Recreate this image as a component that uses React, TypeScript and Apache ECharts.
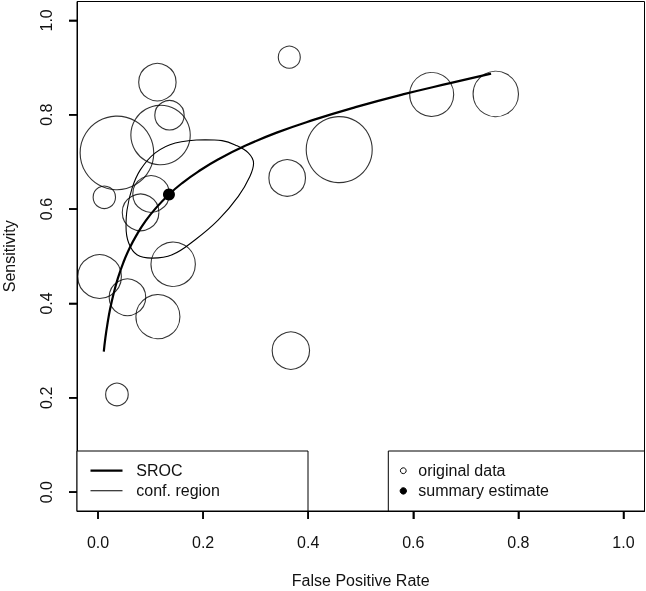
import React, { useEffect, useRef } from "react";
import * as echarts from "echarts";

// ---- data ----
const axisTicks = [0, 0.2, 0.4, 0.6, 0.8, 1.0];

const studyFpr = [0.113, 0.136, 0.119, 0.036, 0.012, 0.101, 0.081, 0.143, 0.003, 0.056, 0.114, 0.036, 0.364, 0.459, 0.36, 0.635, 0.757, 0.367];
const studySens = [0.869, 0.799, 0.757, 0.719, 0.625, 0.632, 0.593, 0.483, 0.457, 0.413, 0.372, 0.207, 0.922, 0.726, 0.666, 0.843, 0.844, 0.3];
const studyRadius = [18.7, 14.7, 29.7, 36.8, 11.2, 18.3, 18.3, 22.2, 21.8, 18.3, 22, 11.3, 11, 33, 18.3, 22, 22.7, 18.7];

const srocFpr = [0.011, 0.014, 0.018, 0.023, 0.03, 0.038, 0.048, 0.06, 0.075, 0.09, 0.11, 0.135, 0.16, 0.19, 0.23, 0.28, 0.34, 0.41, 0.49, 0.58, 0.67, 0.748];
const srocSens = [0.298, 0.327, 0.357, 0.388, 0.422, 0.454, 0.486, 0.517, 0.548, 0.574, 0.602, 0.631, 0.655, 0.679, 0.706, 0.734, 0.762, 0.789, 0.816, 0.843, 0.867, 0.887];

const ellipseFpr = [0.204, 0.147, 0.109, 0.0805, 0.0647, 0.0552, 0.0533, 0.0584, 0.0742, 0.103, 0.141, 0.185, 0.229, 0.267, 0.289, 0.296, 0.286, 0.261, 0.236, 0.204];
const ellipseSens = [0.747, 0.74, 0.719, 0.683, 0.644, 0.598, 0.563, 0.528, 0.503, 0.496, 0.503, 0.535, 0.577, 0.627, 0.669, 0.697, 0.719, 0.736, 0.745, 0.747];

const summaryFpr = 0.135;
const summarySens = 0.631;

const xTitle = "False Positive Rate";
const yTitle = "Sensitivity";
const legendLeft = ["SROC", "conf. region"];
const legendRight = ["original data", "summary estimate"];

const AXIS_MIN = -0.04;
const AXIS_MAX = 1.04;

const FONT = "Liberation Sans, Arial, Helvetica, sans-serif";
const INK = "#000";
const TXT = "#111";
const TICK_LEN = 8;

export default function App() {
  const ref = useRef<HTMLDivElement>(null);

  useEffect(() => {
    if (!ref.current) return;
    const chart = echarts.init(ref.current, undefined, { renderer: "svg" });

    const gLeft = 77, gTop = 1.5, gW = 567.5, gH = 509.5;
    const legTop = 451;
    const legBottom = gTop + gH;

    const axisCommon = {
      type: "value", min: AXIS_MIN, max: AXIS_MAX,
      splitLine: { show: false },
      axisLine: { show: true, onZero: false, lineStyle: { color: INK, width: 1 } },
      axisTick: { show: true, length: TICK_LEN, customValues: axisTicks, lineStyle: { color: INK, width: 1.5 } },
      nameLocation: "middle",
      nameTextStyle: { fontSize: 16, color: TXT, fontFamily: FONT },
    };

    const legendGraphics: any[] = [
      { type: "rect", shape: { x: gLeft, y: legTop, width: 231, height: legBottom - legTop }, style: { fill: "#fff", stroke: INK, lineWidth: 1 }, z: 10 },
      { type: "rect", shape: { x: 388.3, y: legTop, width: gLeft + gW - 388.3, height: legBottom - legTop }, style: { fill: "#fff", stroke: INK, lineWidth: 1 }, z: 10 },
      { type: "line", shape: { x1: 90.5, y1: 470.7, x2: 122.5, y2: 470.7 }, style: { stroke: INK, lineWidth: 2.2 }, z: 11 },
      { type: "line", shape: { x1: 90.5, y1: 490.7, x2: 122.5, y2: 490.7 }, style: { stroke: INK, lineWidth: 1.1 }, z: 11 },
      { type: "text", style: { x: 136.3, y: 470.7, text: legendLeft[0], font: `16px ${FONT}`, fill: TXT, textVerticalAlign: "middle", verticalAlign: "middle" }, z: 11 },
      { type: "text", style: { x: 136.3, y: 490.7, text: legendLeft[1], font: `16px ${FONT}`, fill: TXT, textVerticalAlign: "middle", verticalAlign: "middle" }, z: 11 },
      { type: "circle", shape: { cx: 403.3, cy: 470.7, r: 2.9 }, style: { fill: "#fff", stroke: INK, lineWidth: 1 }, z: 11 },
      { type: "circle", shape: { cx: 403.3, cy: 490.9, r: 3.2 }, style: { fill: INK, stroke: INK, lineWidth: 1 }, z: 11 },
      { type: "text", style: { x: 418.3, y: 470.7, text: legendRight[0], font: `16px ${FONT}`, fill: TXT, textVerticalAlign: "middle", verticalAlign: "middle" }, z: 11 },
      { type: "text", style: { x: 418.3, y: 490.7, text: legendRight[1], font: `16px ${FONT}`, fill: TXT, textVerticalAlign: "middle", verticalAlign: "middle" }, z: 11 },
    ];

    const option: any = {
      animation: false,
      grid: {
        left: gLeft, top: gTop, width: gW, height: gH,
        outerBoundsMode: "none",
        show: true, borderColor: INK, borderWidth: 1,
      },
      xAxis: {
        ...axisCommon,
        axisLabel: {
          customValues: axisTicks, margin: 23, fontSize: 16, color: TXT, fontFamily: FONT,
          formatter: (v: number) => v.toFixed(1),
        },
        name: xTitle, nameGap: 61,
      },
      yAxis: {
        ...axisCommon,
        axisLabel: {
          customValues: axisTicks, margin: 23, rotate: 90, fontSize: 16, color: TXT, fontFamily: FONT,
          formatter: (v: number) => v.toFixed(1),
        },
        name: yTitle, nameGap: 60,
      },
      series: [
        {
          type: "scatter",
          data: studyFpr.map((x, i) => [x, studySens[i], studyRadius[i]]),
          symbol: "circle",
          symbolSize: (v: number[]) => v[2] * 2,
          itemStyle: { color: "transparent", borderColor: INK, borderWidth: 1.1 },
          emphasis: { disabled: true },
        },
        {
          type: "line",
          data: ellipseFpr.map((x, i) => [x, ellipseSens[i]]),
          smooth: 0.4,
          showSymbol: false,
          lineStyle: { color: INK, width: 1.1 },
          emphasis: { disabled: true },
        },
        {
          type: "line",
          data: srocFpr.map((x, i) => [x, srocSens[i]]),
          smooth: true,
          showSymbol: false,
          lineStyle: { color: INK, width: 2.2 },
          emphasis: { disabled: true },
        },
        {
          type: "scatter",
          data: [[summaryFpr, summarySens]],
          symbol: "circle",
          symbolSize: 12,
          itemStyle: { color: "#000", opacity: 1 },
          emphasis: { disabled: true },
          z: 5,
        },
      ],
      graphic: legendGraphics,
    };

    chart.setOption(option);

    // Tick marks positioned through the chart's own scales (backup for axisTick)
    try {
      const tickGraphics: any[] = [];
      axisTicks.forEach((v) => {
        const px = chart.convertToPixel({ xAxisIndex: 0, yAxisIndex: 0 } as any, [v, AXIS_MIN]) as any;
        if (px && isFinite(px[0]) && isFinite(px[1])) {
          tickGraphics.push({
            type: "line",
            shape: { x1: px[0], y1: px[1], x2: px[0], y2: px[1] + TICK_LEN },
            style: { stroke: INK, lineWidth: 1.5 },
            z: 12,
          });
        }
        const py = chart.convertToPixel({ xAxisIndex: 0, yAxisIndex: 0 } as any, [AXIS_MIN, v]) as any;
        if (py && isFinite(py[0]) && isFinite(py[1])) {
          tickGraphics.push({
            type: "line",
            shape: { x1: py[0] - TICK_LEN, y1: py[1], x2: py[0], y2: py[1] },
            style: { stroke: INK, lineWidth: 1.5 },
            z: 12,
          });
        }
      });
      if (tickGraphics.length) chart.setOption({ graphic: [...legendGraphics, ...tickGraphics] });
    } catch (e) {
      // keep the chart as it is
    }

    return () => chart.dispose();
  }, []);

  return (
    <div
      ref={ref}
      style={{ position: "fixed", left: 0, top: 0, width: 646, height: 591 }}
    />
  );
}
